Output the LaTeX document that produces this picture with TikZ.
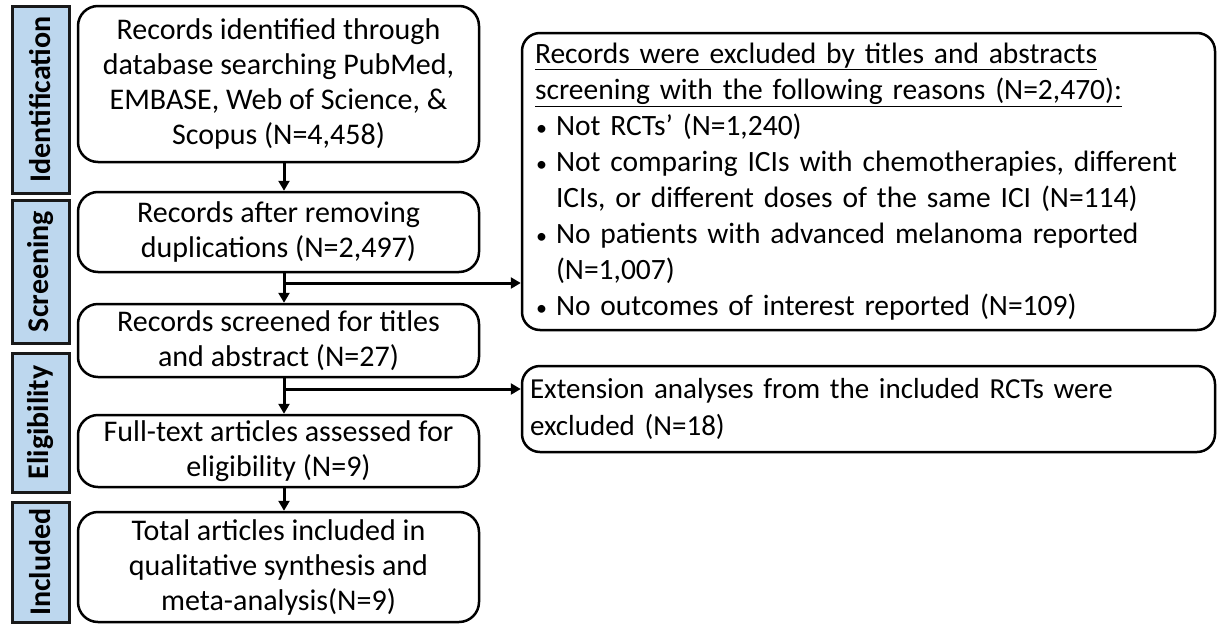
\documentclass[tikz,border=0pt]{standalone}
\usepackage{fontspec}
\setmainfont{Carlito}
\usetikzlibrary{arrows.meta}
\definecolor{stagefill}{RGB}{189,215,238}
\newcommand{\bitem}[1]{\par\hangindent=21pt\hangafter=1\noindent\makebox[21pt][l]{\hspace{1pt}{\fontsize{22}{22}\selectfont\textbullet}}#1}

\begin{document}
\begin{tikzpicture}[x=1pt,y=-1pt,
  stage/.style={draw=black!90,line width=3pt,fill=stagefill,rotate=90,minimum height=57pt,inner sep=0pt,font=\fontsize{30}{36}\selectfont\bfseries},
  box/.style={draw,line width=2.5pt,rounded corners=20pt,minimum width=401pt,align=center,inner sep=0pt,font=\fontsize{30}{35}\selectfont},
  note/.style={draw,line width=2.5pt,rounded corners=18pt,inner ysep=0pt,align=left,font=\fontsize{29.5}{36}\selectfont},
  flow/.style={line width=3pt,-{Triangle[length=10pt,width=11pt]}}]
\useasboundingbox (0,0) rectangle (1217,624);
\node[stage,minimum width=187pt] (ident) at (40.5,99.5) {Identification};
\node[stage,minimum width=143pt] (screen) at (40.5,271.5) {Screening};
\node[stage,minimum width=139pt] (elig) at (40.5,422.5) {Eligibility};
\node[stage,minimum width=120pt] (incl) at (40.5,562) {Included};
\node[box,minimum height=156pt] (found) at (278.5,84) {Records identified through\\database searching PubMed,\\EMBASE, Web of Science, \&\\Scopus (N=4,458)};
\node[box,minimum height=80pt] (dedup) at (278.5,232) {Records after removing\\duplications (N=2,497)};
\node[box,minimum height=73pt] (screened) at (278.5,340.5) {Records screened for titles\\and abstract (N=27)};
\node[box,minimum height=72pt] (fulltext) at (278.5,451) {Full-text articles assessed for\\eligibility (N=9)};
\node[box,minimum height=110pt] (total) at (278.5,567) {Total articles included in\\qualitative synthesis and\\meta-analysis(N=9)};
\node[note,inner xsep=13pt,text width=667pt,minimum height=297pt] (reasons) at (868.5,181.5) {\underline{Records were excluded by titles and abstracts}\\
\underline{screening with the following reasons (N=2,470):}
\bitem{Not RCTs’ (N=1,240)}
\bitem{Not comparing ICIs with chemotherapies, different\newline ICIs, or different doses of the same ICI (N=114)}
\bitem{No patients with advanced melanoma reported\newline (N=1,007)}
\bitem{No outcomes of interest reported (N=109)}};
\node[note,inner xsep=8pt,text width=677pt,minimum height=86pt,font=\fontsize{29}{37}\selectfont] (extension) at (868.5,409) {Extension analyses from the included RCTs were\\excluded (N=18)};
\coordinate (ax) at (284,0);
\coordinate (br1) at (284,283);
\coordinate (br2) at (284,389);
\draw[flow] (found.south -| ax) -- (dedup.north -| ax);
\draw[flow] (dedup.south -| ax) -- (screened.north -| ax);
\draw[flow] (br1) -- (br1 -| reasons.west);
\draw[flow] (screened.south -| ax) -- (fulltext.north -| ax);
\draw[flow] (br2) -- (br2 -| extension.west);
\draw[flow] (fulltext.south -| ax) -- (total.north -| ax);
\end{tikzpicture}
\end{document}
